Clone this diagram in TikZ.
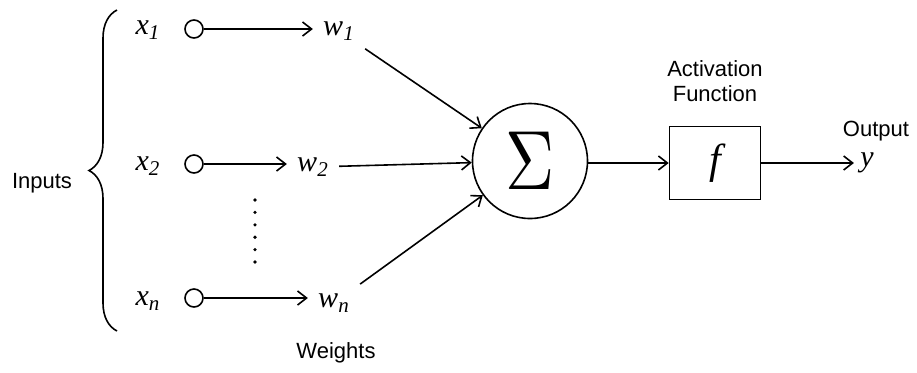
\documentclass[tikz,border=0pt]{standalone}
\usepackage{fontspec}
\setmainfont{Liberation Serif}
\newfontfamily\arial{Liberation Sans}
\usetikzlibrary{arrows.meta,positioning,decorations.pathreplacing}
\tikzset{lbl/.style={font=\arial\fontsize{11}{12.5}\selectfont,inner sep=1pt},
  var/.style={font=\fontsize{15}{15}\selectfont\itshape,inner sep=5pt},
  inode/.style={circle,draw,line width=.8pt,minimum size=9pt,inner sep=0pt},
  wire/.style={line width=.8pt,-{Straight Barb[length=4.5pt,width=7pt]}}}
\newcommand{\sub}[1]{\textsubscript{\itshape #1}}

\begin{document}
\begin{tikzpicture}[x=.5pt,y=-.5pt]
\useasboundingbox (0,0) rectangle (917,372);
\node[lbl] (inp) at (42,183) {Inputs};
\draw[line width=.8pt,decorate,decoration={brace,amplitude=14pt}] (117,331)--(117,10);
\node[var] (x1) at (148,30) {x\sub{1}};
\node[var] (x2) at (148,166) {x\sub{2}};
\node[var] (xn) at (148,301) {x\sub{n}};
\node[inode] (c1) at (194,29) {};
\node[inode] (c2) at (194,164) {};
\node[inode] (cn) at (194,298) {};
\node[var] (w1) at (339,31) {w\sub{1}};
\node[var] (w2) at (313,167) {w\sub{2}};
\node[var] (wn) at (334,303) {w\sub{n}};
\draw[wire] (c1)--(c1-|w1.west);
\draw[wire] (c2)--(c2-|w2.west);
\draw[wire] (cn)--(cn-|wn.west);
\foreach \i in {0,...,5} \fill (255,200+12.4*\i) circle (.9pt);
\node[circle,draw,line width=.8pt,minimum size=57.5pt,inner sep=0pt]
  (sum) at (530,161) {\scalebox{3.4}[4.2]{$\Sigma$}};
\draw[wire] (w1)--(sum);
\draw[wire] (w2)--(sum);
\draw[wire] (wn)--(sum);
\node[draw,line width=.8pt,minimum width=45.5pt,minimum height=36.5pt,
  font=\fontsize{21}{21}\selectfont\itshape] (act) at (715,163) {\raisebox{-3pt}{f}};
\node[lbl,align=center] (actlbl) at (715,81) {Activation\\Function};
\draw[wire] (sum.east|-act)--(act);
\node[var,inner sep=3pt] (y) at (867,163) {y};
\node[lbl] (outlbl) at (876,131) {Output};
\draw[wire] (act)--(act-|y.west);
\node[lbl] (wlbl) at (336,353) {Weights};
\end{tikzpicture}
\end{document}
